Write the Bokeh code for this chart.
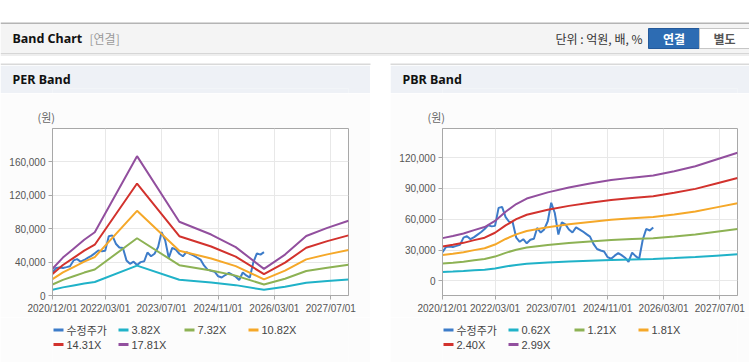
import pandas as pd
from bokeh.plotting import figure
from bokeh.models import Range1d, FixedTicker, NumeralTickFormatter
from bokeh.layouts import column, row
from bokeh.embed import file_html
from bokeh.resources import INLINE
from bokeh.core.properties import value

# ---------------- data ----------------
price_dates = pd.date_range("2020-12-01", periods=61, freq="MS")
price = [28000, 33000, 33500, 33000, 34000, 35000, 42000, 43500, 40500, 42500,
         45000, 47500, 50500, 54000, 53000, 53500, 71000, 72000, 62000, 57500,
         57000, 42000, 38000, 40500, 36500, 40000, 41000, 51500, 47000, 50000,
         58000, 76000, 66000, 45000, 57000, 55000, 50000, 47000, 52000, 50000,
         48000, 45500, 43000, 36000, 31000, 29500, 28500, 23000, 21500, 24500,
         27000, 25000, 22500, 18500, 27500, 24000, 21500, 40000, 50500, 49000,
         52000]

per_dates = ["2020-12-01", "2021-03-01", "2021-06-01", "2021-09-01", "2021-12-01",
             "2022-12-01", "2023-12-01", "2024-09-01", "2025-04-01", "2025-12-01",
             "2026-06-01", "2026-12-01", "2027-06-01", "2027-12-01"]
per_3_82 = [6876, 9741, 12033, 14325, 16235, 35793, 18947, 15662, 12415, 6838, 10505, 15280, 17381, 19215]
per_7_32 = [13176, 18666, 23058, 27450, 31110, 68588, 36307, 30012, 23790, 13103, 20130, 29280, 33306, 36820]
per_10_82 = [19476, 27591, 34083, 40575, 45985, 101383, 53667, 44362, 35165, 19368, 29755, 43280, 49231, 54425]
per_14_31 = [25758, 36491, 45077, 53663, 60818, 134085, 70978, 58671, 46508, 25615, 39353, 57240, 65111, 71979]
per_17_81 = [32058, 45416, 56102, 66788, 75693, 166880, 88338, 73021, 57883, 31880, 48978, 71240, 81036, 89584]
per_labels = ["수정주가", "3.82X", "7.32X", "10.82X", "14.31X", "17.81X"]

pbr_dates = ["2020-12-01", "2021-03-01", "2021-06-01", "2021-09-01", "2021-12-01",
             "2022-03-01", "2022-06-01", "2022-09-01", "2022-12-01", "2023-06-01",
             "2023-12-01", "2024-06-01", "2024-12-01", "2025-06-01", "2025-12-01",
             "2026-06-01", "2026-12-01", "2027-06-01", "2027-12-01"]
pbr_0_62 = [8618, 9052, 9548, 10230, 10850, 12090, 13950, 15500, 16616, 17856,
            18848, 19654, 20336, 20832, 21266, 22134, 23126, 24490, 25854]
pbr_1_21 = [16819, 17666, 18634, 19965, 21175, 23595, 27225, 30250, 32428, 34848,
            36784, 38357, 39688, 40656, 41503, 43197, 45133, 47795, 50457]
pbr_1_81 = [25159, 26426, 27874, 29865, 31675, 35295, 40725, 45250, 48508, 52128,
            55024, 57377, 59368, 60816, 62083, 64617, 67513, 71495, 75477]
pbr_2_40 = [33360, 35040, 36960, 39600, 42000, 46800, 54000, 60000, 64320, 69120,
            72960, 76080, 78720, 80640, 82320, 85680, 89520, 94800, 100080]
pbr_2_99 = [41561, 43654, 46046, 49335, 52325, 58305, 67275, 74750, 80132, 86112,
            90896, 94783, 98072, 100464, 102557, 106743, 111527, 118105, 124683]
pbr_labels = ["수정주가", "0.62X", "1.21X", "1.81X", "2.40X", "2.99X"]

x_tick_dates = ["2020-12-01", "2022-03-01", "2023-07-01", "2024-11-01", "2026-03-01", "2027-07-01"]
x_tick_labels = ["2020/12/01", "2022/03/01", "2023/07/01", "2024/11/01", "2026/03/01", "2027/07/01"]
x_start, x_end = "2020-12-01", "2027-12-01"
per_yticks = [0, 40000, 80000, 120000, 160000]
per_yrange = (0, 200000)
pbr_yticks = [0, 30000, 60000, 90000, 120000]
pbr_yrange = (-14300, 148300)

colors = ["#3d7cc9", "#20b2c8", "#8db254", "#f5a829", "#d2322d", "#924f9e"]

LATIN = "Liberation Sans"
KR = "Noto Sans CJK KR"


def canvas(x0, x1, y0, y1, bg):
    p = figure(width=x1 - x0, height=y1 - y0, x_range=Range1d(x0, x1), y_range=Range1d(y1, y0),
               x_axis_location=None, y_axis_location=None, toolbar_location=None,
               output_backend="svg", min_border=0, outline_line_color=None,
               background_fill_color=bg, border_fill_color=bg)
    p.xgrid.visible = False
    p.ygrid.visible = False
    return p


def txt(p, x, y, s, size="12px", color="#222", bold=False, align="left", font=KR):
    p.text(x=[x], y=[y], text=[s], text_font=value(font), text_font_size=size,
           text_font_style="bold" if bold else "normal", text_color=color,
           text_align=align, text_baseline="middle")


# ---------------- top header (page pixels) ----------------
top = canvas(0, 749, 0, 65, "white")
top.quad(left=[0], right=[749], top=[22], bottom=[23.5], fill_color="#b4b4b4", line_color=None)
top.quad(left=[0], right=[749], top=[23.5], bottom=[52.5], fill_color="#f4f4f4", line_color=None)
top.quad(left=[0], right=[749], top=[52.5], bottom=[53.5], fill_color="#d6d6d6", line_color=None)
top.quad(left=[0], right=[749], top=[53.5], bottom=[55.5], fill_color="#eeeeee", line_color=None)
top.quad(left=[0, 390], right=[370, 749], top=[63, 63], bottom=[65, 65],
         fill_color="#d9d9d9", line_color=None)
txt(top, 12, 38, "Band Chart", size="12.5px", color="#111", bold=True, font="Noto Sans")
txt(top, 89, 38, "[연결]", size="12px", color="#9a9a9a")
txt(top, 642, 38, "단위 : 억원, 배, %", size="12px", color="#333", align="right")
top.quad(left=[648], right=[699], top=[28], bottom=[48], fill_color="#2d6cb3", line_color="#24599a")
top.quad(left=[699], right=[750], top=[28], bottom=[48], fill_color="#ffffff", line_color="#c6c6c6")
txt(top, 673.5, 38, "연결", size="12px", color="#ffffff", bold=True, align="center")
txt(top, 724, 38, "별도", size="12px", color="#555555", bold=True, align="center")


def strip(x0, x1, f_left, f_right, y0, y1, bg, title=None):
    p = figure(width=x1 - x0, height=y1 - y0, x_axis_location=None, y_axis_location=None,
               x_range=Range1d(f_left, f_right), y_range=Range1d(y1, y0),
               toolbar_location=None, output_backend="svg",
               min_border_left=f_left - x0, min_border_right=x1 - f_right,
               min_border_top=0 if title is None else 23, min_border_bottom=0,
               outline_line_color=None, background_fill_color=bg, border_fill_color=bg)
    p.xgrid.visible = False
    p.ygrid.visible = False
    if title is not None:
        p.title.text = title
        p.title.align = "left"
        p.title.offset = -40
        p.title.standoff = 2
        p.title.text_font = "Noto Sans"
        p.title.text_font_size = "12.5px"
        p.title.text_font_style = "bold"
        p.title.text_color = "#111111"
    return p


def band_chart(x0, x1, f_left, f_right, yrange, yticks, band_dates, bands):
    p = figure(width=x1 - x0, height=224, x_axis_type="datetime",
               x_range=Range1d(pd.Timestamp(x_start), pd.Timestamp(x_end)),
               y_range=Range1d(*yrange), output_backend="svg", toolbar_location=None,
               min_border_left=f_left - x0, min_border_right=x1 - f_right,
               min_border_top=35, min_border_bottom=22,
               background_fill_color="white", border_fill_color="#fcfcfc",
               outline_line_color="#a8a8a8")
    p.title.text = "(원)"
    p.title.align = "left"
    p.title.offset = -15
    p.title.standoff = 7
    p.title.text_font = KR
    p.title.text_font_size = "11px"
    p.title.text_font_style = "normal"
    p.title.text_color = "#666666"

    tick_ms = [pd.Timestamp(d).value // 10**6 for d in x_tick_dates]
    p.xaxis.ticker = FixedTicker(ticks=tick_ms)
    p.xaxis.major_label_overrides = {t: l for t, l in zip(tick_ms, x_tick_labels)}
    p.yaxis.ticker = FixedTicker(ticks=yticks)
    p.yaxis.formatter = NumeralTickFormatter(format="0,0")
    for ax in (p.xaxis, p.yaxis):
        ax.axis_line_color = "#a8a8a8"
        ax.major_tick_line_color = "#a8a8a8"
        ax.major_tick_in = 0
        ax.major_tick_out = 4
        ax.minor_tick_line_color = None
        ax.major_label_standoff = 3
        ax.major_label_text_font = LATIN
        ax.major_label_text_font_size = "10px"
        ax.major_label_text_color = "#555555"
    p.xgrid.grid_line_color = "#e8e8e8"
    p.ygrid.grid_line_color = "#e8e8e8"

    p.line(x=price_dates, y=price, line_color=colors[0], line_width=2)
    bd = pd.to_datetime(band_dates)
    for vals, c in zip(bands, colors[1:]):
        p.line(x=bd, y=vals, line_color=c, line_width=2)
    return p


def legend_fig(x0, x1, f_left, f_right, labels):
    # frame spans the chart's frame width; coordinates here are page pixels
    p = strip(x0, x1, f_left, f_right, 317, 362, "#fcfcfc")
    col_off = [1, 66, 132, 196]
    row_y = [329.5, 344]
    for i, (lab, c) in enumerate(zip(labels, colors)):
        lx = f_left + col_off[i % 4]
        ly = row_y[i // 4]
        p.segment(x0=[lx], y0=[ly], x1=[lx + 10], y1=[ly], line_color=c, line_width=3)
        font = KR if i == 0 else LATIN
        txt(p, lx + 13, ly, lab, size="11px", color="#444444", font=font)
    return p


per_head = strip(0, 370, 52, 348, 65, 93, "#eef1f6", "PER Band")
pbr_head = strip(390, 749, 442, 737, 65, 93, "#eef1f6", "PBR Band")

per_chart = band_chart(0, 370, 52, 348, per_yrange, per_yticks, per_dates,
                       [per_3_82, per_7_32, per_10_82, per_14_31, per_17_81])
pbr_chart = band_chart(390, 749, 442, 737, pbr_yrange, pbr_yticks, pbr_dates,
                       [pbr_0_62, pbr_1_21, pbr_1_81, pbr_2_40, pbr_2_99])

per_leg = legend_fig(0, 370, 52, 348, per_labels)
pbr_leg = legend_fig(390, 749, 442, 737, pbr_labels)

per_bot = strip(0, 370, 52, 348, 362, 364, "#d2d2d2")
pbr_bot = strip(390, 749, 442, 737, 362, 364, "#d2d2d2")
gap = canvas(370, 390, 65, 364, "white")

layout = column(top, row(column(per_head, per_chart, per_leg, per_bot), gap,
                         column(pbr_head, pbr_chart, pbr_leg, pbr_bot)))

open("out.html", "w").write(file_html(layout, INLINE))
